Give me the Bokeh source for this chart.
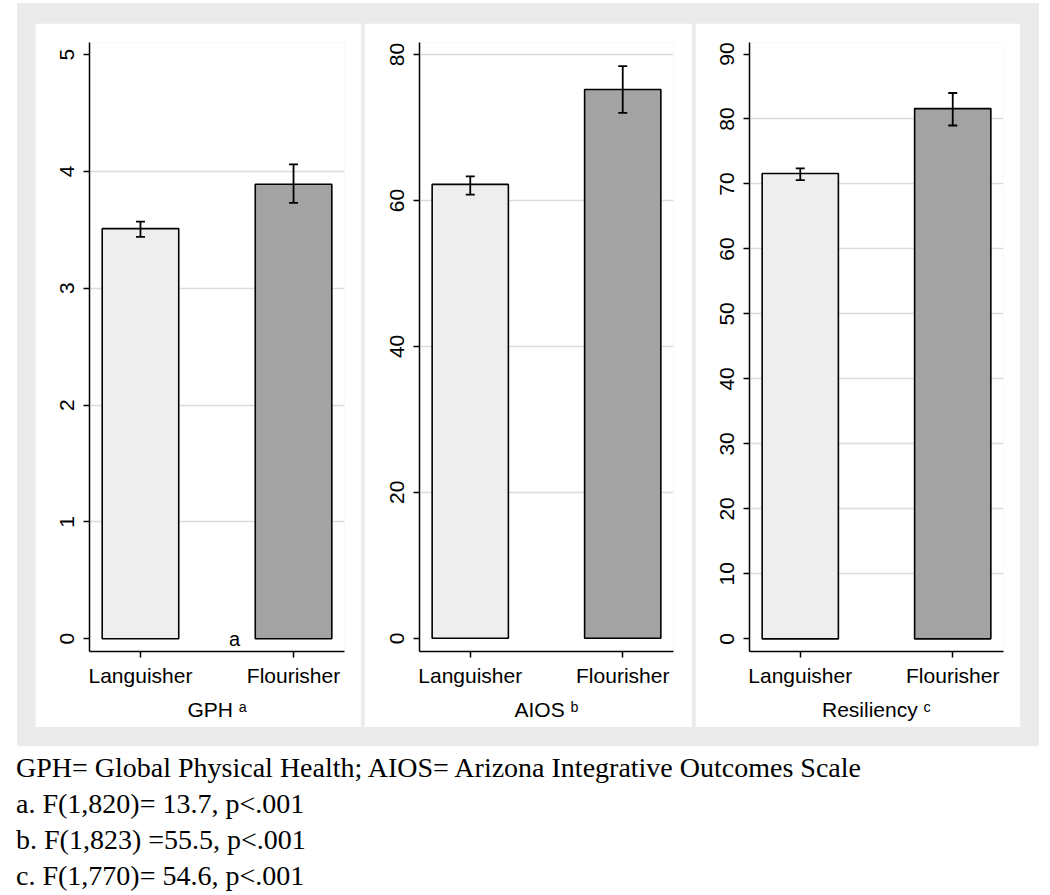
from bokeh.plotting import figure
from bokeh.models import Range1d, FixedTicker, ColumnDataSource, Whisker, TeeHead, Label, Div
from bokeh.layouts import row, column
from bokeh.embed import file_html
from bokeh.resources import INLINE

# ---- data ----
groups = ["Languisher", "Flourisher"]
bar_colors = ["#eeeeee", "#a3a3a3"]

gph_mean = [3.51, 3.89]
gph_lo = [3.44, 3.73]
gph_hi = [3.57, 4.06]

aios_mean = [62.2, 75.2]
aios_lo = [60.8, 72.0]
aios_hi = [63.3, 78.4]

res_mean = [71.6, 81.6]
res_lo = [70.6, 79.0]
res_hi = [72.4, 84.0]

gph_ticks = [0, 1, 2, 3, 4, 5]
aios_ticks = [0, 20, 40, 60, 80]
res_ticks = [0, 10, 20, 30, 40, 50, 60, 70, 80, 90]

gph_grid = [1, 2, 3, 4]
aios_grid = [20, 40, 60, 80]
res_grid = [10, 20, 30, 40, 50, 60, 70, 80]

titles = ["GPH \u1d43", "AIOS \u1d47", "Resiliency \u1d9c"]

footnotes = [
    "GPH= Global Physical Health; AIOS= Arizona Integrative Outcomes Scale",
    "a. F(1,820)= 13.7, p&lt;.001",
    "b. F(1,823) =55.5, p&lt;.001",
    "c. F(1,770)= 54.6, p&lt;.001",
]

SANS = "Liberation Sans"


def make_panel(means, lo, hi, yr, ticks, grid, width, left, right, margin,
               title, stray=None):
    xs = list(range(1, len(groups) + 1))
    src = ColumnDataSource(dict(x=xs, top=means, lower=lo, upper=hi,
                                color=bar_colors, name=groups))
    p = figure(width=width, height=704, output_backend="svg", toolbar_location=None,
               x_range=Range1d(0.667, 2.333), y_range=Range1d(*yr),
               min_border_left=left, min_border_right=right,
               min_border_top=19, min_border_bottom=76,
               background_fill_color="white", border_fill_color="white",
               outline_line_color=None, margin=margin)
    p.vbar(x="x", top="top", bottom=0, width=0.5, fill_color="color",
           line_color="black", line_width=1.6, source=src)
    w = Whisker(source=src, base="x", upper="upper", lower="lower",
                line_color="black", line_width=1.8, level="annotation",
                upper_head=TeeHead(size=9, line_width=1.8, line_color="black"),
                lower_head=TeeHead(size=9, line_width=1.8, line_color="black"))
    p.add_layout(w)

    p.yaxis.ticker = FixedTicker(ticks=ticks)
    p.yaxis.major_label_orientation = "vertical"
    p.xaxis.ticker = FixedTicker(ticks=xs)
    p.xaxis.major_label_overrides = {x: g for x, g in zip(xs, groups)}
    for ax in (p.xaxis, p.yaxis):
        ax.axis_line_color = "black"
        ax.axis_line_width = 1.5
        ax.major_tick_line_color = "black"
        ax.major_tick_line_width = 1.5
        ax.major_tick_in = 0
        ax.major_tick_out = 6
        ax.minor_tick_line_color = None
        ax.major_label_text_font = SANS
        ax.major_label_text_font_size = "21px"
        ax.major_label_text_color = "black"
    p.yaxis.major_label_standoff = 9
    p.xaxis.major_label_standoff = 6
    p.xaxis.axis_label = title
    p.xaxis.axis_label_text_font = SANS
    p.xaxis.axis_label_text_font_size = "21px"
    p.xaxis.axis_label_text_font_style = "normal"
    p.xaxis.axis_label_text_color = "black"
    p.xaxis.axis_label_standoff = 8

    p.xgrid.visible = False
    p.ygrid.ticker = FixedTicker(ticks=grid)
    p.ygrid.grid_line_color = "#dcdcdc"
    p.ygrid.grid_line_width = 1.5

    if stray is not None:
        p.add_layout(Label(x=stray[0], y=stray[1], text=stray[2],
                           text_align="center", text_baseline="alphabetic",
                           text_font=SANS, text_font_size="20px", text_color="black"))
    return p


p1 = make_panel(gph_mean, gph_lo, gph_hi, (-0.109, 5.103), gph_ticks, gph_grid,
                326, 54, 17, (20, 0, 19, 18), titles[0], stray=(1.615, 0.0, "a"))
p2 = make_panel(aios_mean, aios_lo, aios_hi, (-1.81, 81.65), aios_ticks, aios_grid,
                328, 55, 19, (20, 0, 19, 3), titles[1])
p3 = make_panel(res_mean, res_lo, res_hi, (-1.95, 91.77), res_ticks, res_grid,
                325, 54, 17, (20, 19, 19, 3), titles[2])

panels = row([p1, p2, p3], spacing=0, margin=(3, 0, 0, 17),
             styles={"background-color": "#ebebeb"})

note = Div(text="<br>".join(footnotes), width=1020, height=144, margin=(4, 0, 0, 16),
           styles={"font-family": "'Liberation Serif', 'Times New Roman', serif",
                   "font-size": "28px", "line-height": "36px", "color": "black",
                   "white-space": "nowrap"})

layout = column([panels, note], spacing=0)

open("out.html", "w").write(file_html(layout, INLINE))
